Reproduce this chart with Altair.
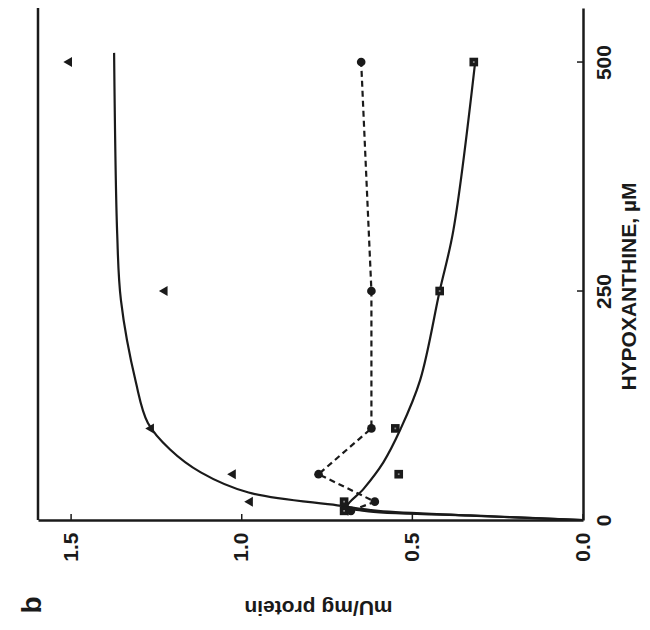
import altair as alt
import pandas as pd

# measured points (hypoxanthine µM, mU/mg protein)
conc = [10, 20, 50, 100, 250, 500]
tri_vals = [0.70, 0.98, 1.03, 1.27, 1.23, 1.51]
sq_vals = [0.70, 0.70, 0.54, 0.55, 0.42, 0.32]
circ_vals = [0.68, 0.61, 0.775, 0.62, 0.62, 0.65]

# fitted curves
tri_curve_h = [0, 5, 10, 16, 30, 52, 77, 106, 150, 240, 313, 510]
tri_curve_v = [0, 0.33, 0.60, 0.72, 0.98, 1.12, 1.21, 1.275, 1.31, 1.354, 1.365, 1.374]
sq_curve_h = [0, 5, 10, 15, 34, 63, 99, 153, 250, 316, 500]
sq_curve_v = [0, 0.35, 0.64, 0.69, 0.643, 0.585, 0.535, 0.477, 0.42, 0.38, 0.316]

x_ticks = [0.0, 0.5, 1.0, 1.5]
y_ticks = [0, 250, 500]

W, H = 545, 512
FONT = "Liberation Sans"
INK = "#1a1a1a"

xs = alt.Scale(domain=[0, 1.597], reverse=True, nice=False, zero=False)
ys = alt.Scale(domain=[0, 559], nice=False, zero=False)

tri_df = pd.DataFrame({"h": conc, "v": tri_vals})
sq_df = pd.DataFrame({"h": conc, "v": sq_vals})
circ_df = pd.DataFrame({"h": conc, "v": circ_vals, "i": range(len(conc))})
tcurve = pd.DataFrame({"h": tri_curve_h, "v": tri_curve_v, "i": range(len(tri_curve_h))})
scurve = pd.DataFrame({"h": sq_curve_h, "v": sq_curve_v, "i": range(len(sq_curve_h))})

x_axis = alt.Axis(
    values=x_ticks, format=".1f", labelAngle=270, labelAlign="right", labelBaseline="middle",
    labelPadding=12, labelFontSize=21, labelFont=FONT, labelFontWeight="bold", labelColor=INK,
    tickSize=0, domainColor=INK, domainWidth=2.5, grid=False,
    title="mU/mg protein", titleAngle=180, titleFont=FONT, titleFontSize=21, titleFontWeight="bold",
    titleColor=INK, titleX=280, titleY=86, titleAlign="center", titleBaseline="middle",
)
y_axis = alt.Axis(
    orient="right", values=y_ticks, format="d", labelAngle=270, labelAlign="center", labelBaseline="top",
    labelPadding=10, labelFontSize=21, labelFont=FONT, labelFontWeight="bold", labelColor=INK,
    tickSize=0, domainColor=INK, domainWidth=2.5, grid=False,
    title="HYPOXANTHINE,  µM", titleAngle=270, titleFont=FONT, titleFontSize=21, titleFontWeight="bold",
    titleColor=INK, titleX=46, titleY=278, titleAlign="center", titleBaseline="middle",
)

X = alt.X("v:Q", scale=xs, axis=x_axis)
Y = alt.Y("h:Q", scale=ys, axis=y_axis)

left_border = alt.Chart(pd.DataFrame({"a": [0]})).mark_rule(color=INK, strokeWidth=2.5).encode(
    x=alt.value(0), y=alt.value(0), y2=alt.value(H)
)

xt = alt.Chart(pd.DataFrame({"v": x_ticks})).mark_rule(color=INK, strokeWidth=1.5).encode(
    x=X, y=alt.value(H), y2=alt.value(H - 6)
)
yt = alt.Chart(pd.DataFrame({"h": y_ticks})).mark_rule(color=INK, strokeWidth=1.5).encode(
    y=Y, x=alt.value(W), x2=alt.value(W - 6)
)

def curve(df, dash=None):
    kw = dict(color=INK, strokeWidth=2.2, interpolate="catmull-rom")
    if dash:
        kw["strokeDash"] = dash
        kw["interpolate"] = "linear"
    return alt.Chart(df).mark_line(**kw).encode(x=X, y=Y, order="i:Q")

tri_line = curve(tcurve)
sq_line = curve(scurve)
circ_line = curve(circ_df, dash=[6, 4])

def pts(df, shape, size, color=INK):
    return alt.Chart(df).mark_point(shape=shape, filled=True, color=color, size=size, opacity=1).encode(
        x=X, y=Y
    )

tri_pts = pts(tri_df, "triangle-left", 100)
sq_pts = pts(sq_df, "square", 75)
sq_holes = pts(sq_df, "square", 3, color="#8a8a8a")
circ_pts = pts(circ_df, "circle", 75)

panel = alt.Chart(pd.DataFrame({"t": ["b"]})).mark_text(
    font=FONT, fontSize=28, fontWeight="bold", angle=270, color=INK
).encode(text="t:N", x=alt.value(-5), y=alt.value(597))

chart = alt.layer(
    left_border, xt, yt, tri_line, sq_line, circ_line, tri_pts, sq_pts, sq_holes, circ_pts, panel
).properties(
    width=W, height=H,
    autosize=alt.AutoSizeParams(type="none"),
    padding={"left": 38, "top": 8, "right": 67, "bottom": 110},
    background="white",
).configure_view(stroke=None)

chart.save("out.html", embed_options={"renderer": "svg", "actions": False})
